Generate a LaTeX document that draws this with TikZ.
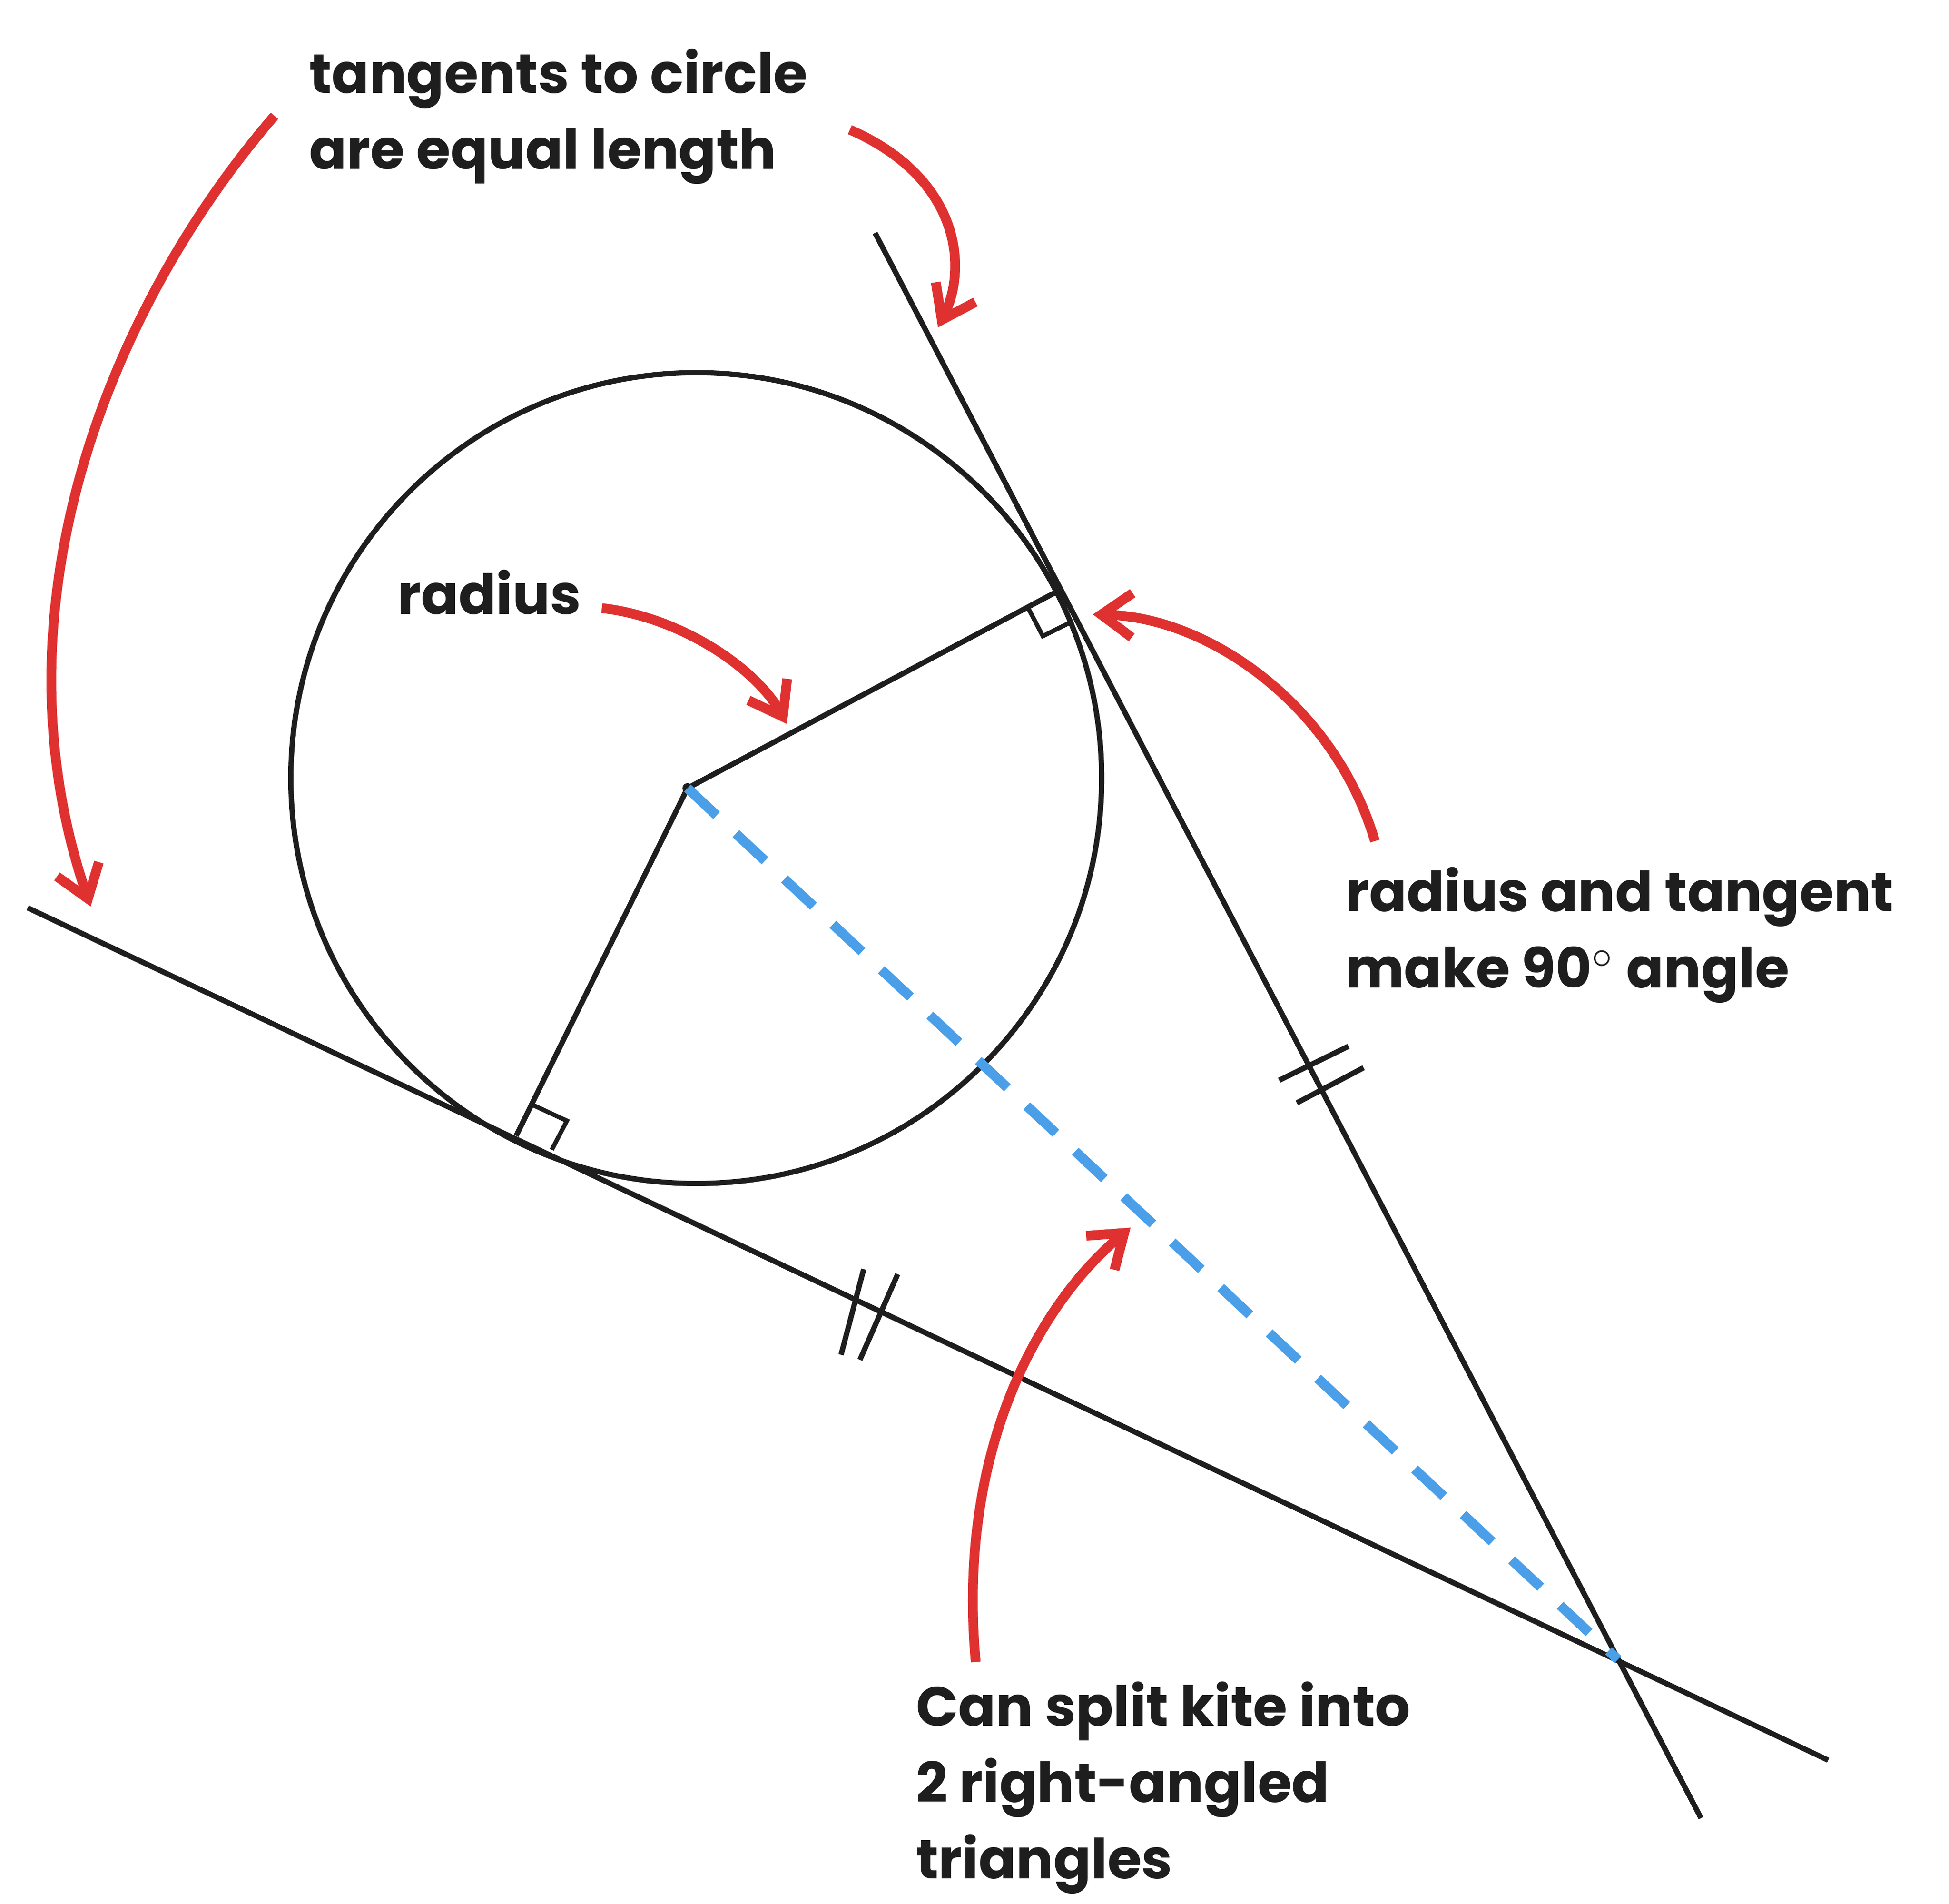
\documentclass[tikz,border=0pt]{standalone}
\usepackage{fontspec}
\setmainfont{Poppins}
\usetikzlibrary{positioning, arrows.meta, calc}

\definecolor{penred}{HTML}{E03131}
\definecolor{penblue}{HTML}{4A9FE8}
\definecolor{ink}{HTML}{1E1E1E}

\begin{document}
\begin{tikzpicture}[
    x=0.01cm, y=-0.01cm,
    line/.style={draw=ink, line width=1.2pt},
    note/.style={align=left, anchor=north west, inner sep=0pt, text=ink, font=\fontsize{12.5}{17.2}\selectfont\bfseries},
    arrow/.style={draw=penred, line width=2.2pt, -{Straight Barb[length=7pt,width=10pt]}},
]
\useasboundingbox (0,0) rectangle (1548,1512);

% Geometry
\coordinate (centre) at (546,626);
\coordinate (tA) at (843,468);
\coordinate (tB) at (410,902);
\coordinate (meet) at (1285,1318);
\coordinate (l1s) at (22,721);
\coordinate (l1e) at (1452,1398);
\coordinate (l2s) at (695,185);
\coordinate (l2e) at (1351,1444);

\draw[line] (553,618) circle (322);
\draw[line] (l1s) -- (l1e);
\draw[line] (l2s) -- (l2e);
\draw[line] (tA) -- (centre) -- (tB);
\fill[ink] (centre) circle (4);
\draw[penblue, line width=2.2pt, dash pattern=on 9pt off 6pt] (centre) -- (meet);

% Right angles
\draw[line, line width=1pt] ($(tA)!0.09!(centre)$) -- ++(12,23) -- ++(22,-11);
\draw[line, line width=1pt] ($(tB)!0.09!(centre)$) -- ++(28,13) -- ++(-12,23);

% Equal marks
\draw[line] (686,1008) -- (668,1076);
\draw[line] (713,1012) -- (683,1080);
\draw[line] (1016,858) -- (1071,831);
\draw[line] (1030,876) -- (1083,848);

% Labels
\node[note] (equal) at (245,38) {tangents to circle\\are equal length};
\node[note] (rad) at (315,452) {radius};
\node[note] (perp) at (1068,688) {radius and tangent\\make 90$^\circ$ angle};
\node[note] (kite) at (727,1335) {Can split kite into\\2 right-angled\\triangles};

% Arrows
\draw[arrow] (218,92) .. controls (90,240) and (-10,480) .. (72,720);
\draw[arrow] (675,103) .. controls (760,140) and (770,210) .. (745,260);
\draw[arrow] (478,483) .. controls (540,490) and (600,530) .. (625,575);
\draw[arrow] (1092,668) .. controls (1060,560) and (960,490) .. (868,488);
\draw[arrow] (775,1320) .. controls (760,1160) and (820,1040) .. (898,975);
\end{tikzpicture}
\end{document}
